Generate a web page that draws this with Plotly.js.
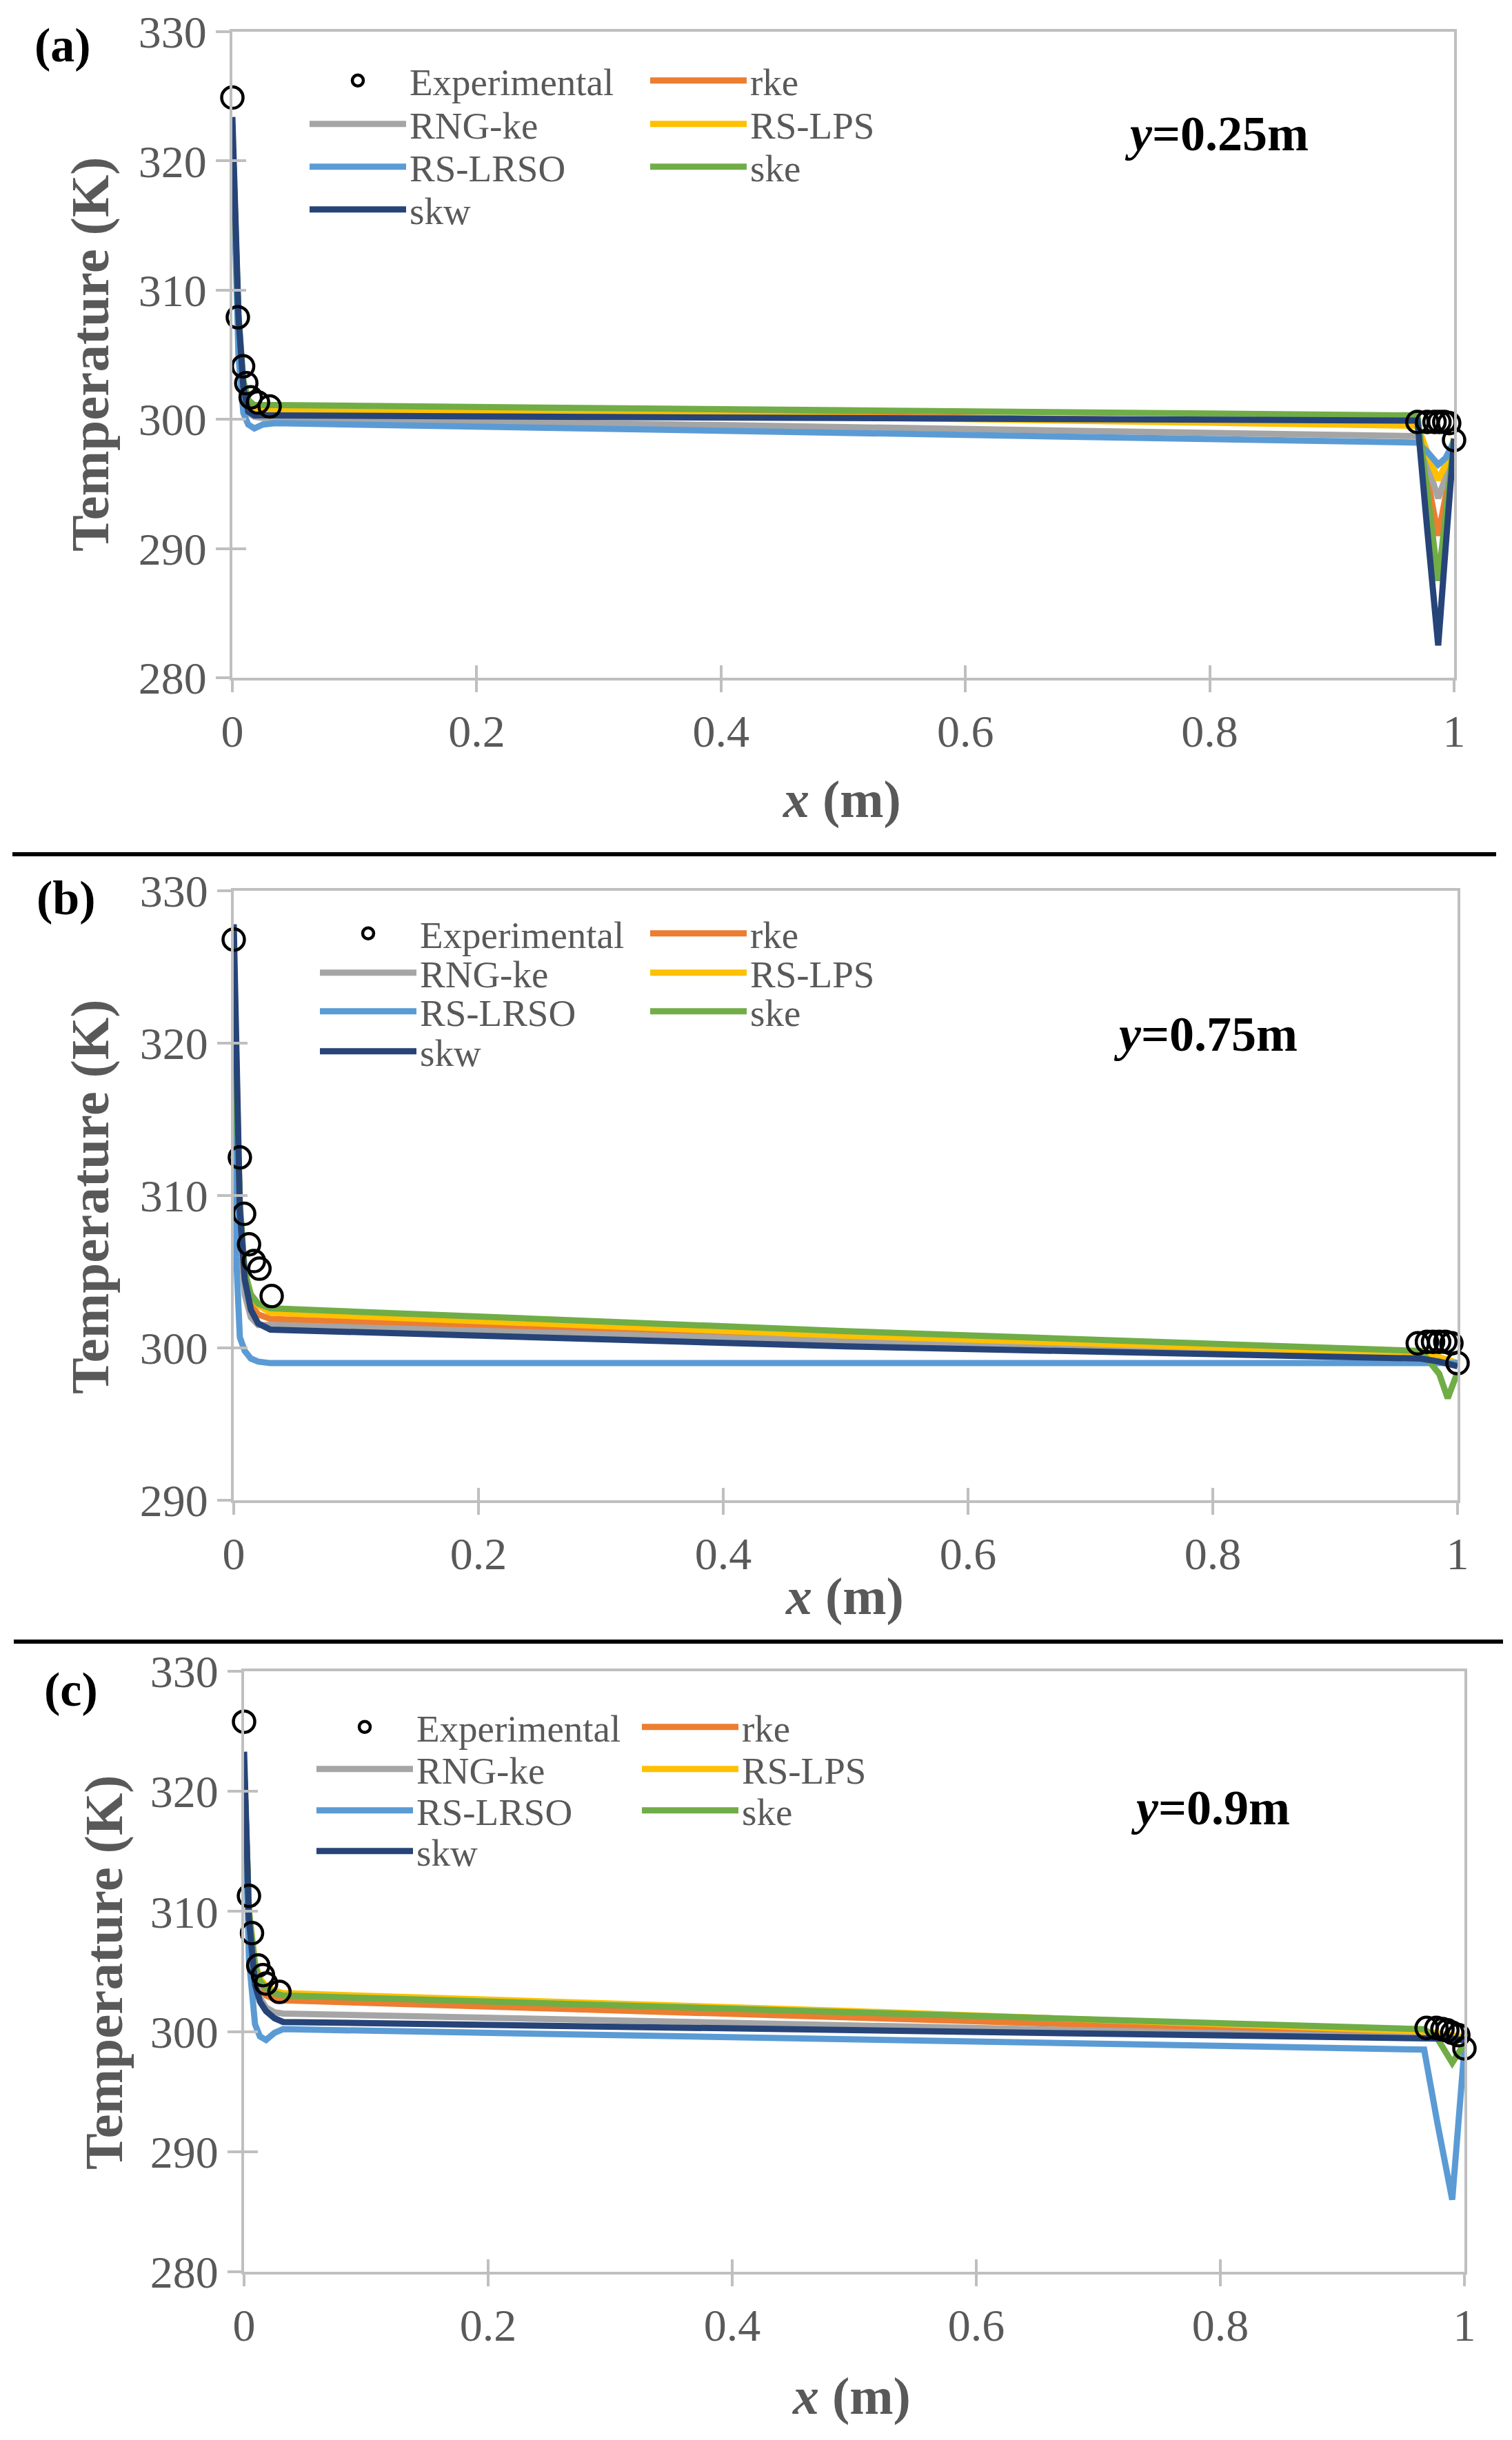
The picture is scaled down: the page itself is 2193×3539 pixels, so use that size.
<!DOCTYPE html>
<html>
<head>
<meta charset="utf-8">
<script src="https://cdn.plot.ly/plotly-3.0.1.min.js"></script>
<style>
  html, body { margin: 0; padding: 0; background: #fff; }
  #chart { width: 2193px; height: 3539px; }
</style>
</head>
<body>
<div id="chart"></div>
<script>
// series names and colours (Excel office palette)
const modelNames = ['rke', 'RNG-ke', 'RS-LPS', 'RS-LRSO', 'ske', 'skw'];
const modelColors = ['#ED7D31', '#A5A5A5', '#FFC000', '#5B9BD5', '#70AD47', '#264478'];
const xTickVals = [0, 0.2, 0.4, 0.6, 0.8, 1];
const xTickText = ['0', '0.2', '0.4', '0.6', '0.8', '1'];

// ---- panel (a), y = 0.25 m ----
const xLineA = [0, 0.002, 0.005, 0.009, 0.013, 0.018, 0.025, 0.035, 0.5, 0.97, 0.978, 0.987, 0.993, 1.0];
const rkeA   = [322, 315, 307.5, 302.5, 301.2, 300.9, 300.8, 300.8, 300.3, 299.7, 295.5, 291.0, 294.0, 298.5];
const rngA   = [322, 315, 307.0, 302.0, 300.5, 300.2, 300.1, 300.1, 299.4, 298.7, 296.5, 293.9, 295.5, 298.5];
const lpsA   = [322, 315, 307.5, 302.5, 301.2, 300.9, 300.8, 300.8, 300.1, 299.5, 297.5, 295.3, 296.5, 298.5];
const lrsoA  = [322, 314, 305.0, 300.5, 299.6, 299.3, 299.6, 299.7, 299.0, 298.2, 297.5, 296.5, 297.0, 298.3];
const skeA   = [322, 315, 308.0, 303.0, 301.5, 301.1, 301.1, 301.1, 300.7, 300.3, 294.5, 287.5, 292.5, 298.5];
const skwA   = [323.4, 316, 308.0, 302.5, 300.6, 300.3, 300.3, 300.3, 300.1, 299.9, 291.5, 282.5, 290.0, 298.5];
const xExpA  = [0, 0.0045, 0.0088, 0.0114, 0.015, 0.021, 0.0305, 0.970, 0.978, 0.984, 0.988, 0.992, 0.996, 1.0];
const tExpA  = [324.9, 307.9, 304.1, 302.8, 301.7, 301.3, 301.0, 299.8, 299.8, 299.8, 299.8, 299.8, 299.7, 298.4];

// ---- panel (b), y = 0.75 m ----
const xLineB = [0, 0.002, 0.005, 0.009, 0.014, 0.02, 0.03, 0.5, 0.97, 0.985, 0.992, 1.0];
const rkeB   = [326, 317, 308.5, 304.2, 302.8, 302.2, 301.9, 300.6, 299.5, 299.3, 299.1, 298.9];
const rngB   = [326, 316, 307.5, 303.5, 302.0, 301.5, 301.5, 300.4, 299.4, 299.2, 299.1, 298.9];
const lpsB   = [326, 317, 309.0, 305.0, 303.5, 302.8, 302.3, 300.8, 299.6, 299.4, 299.2, 299.0];
const lrsoB  = [320, 306, 300.7, 299.8, 299.3, 299.1, 299.0, 299.0, 299.1, 299.1, 299.1, 299.0];
const skeB   = [326, 317, 309.5, 305.0, 303.5, 302.9, 302.6, 301.1, 299.8, 298.3, 296.7, 298.4];
const skwB   = [327.8, 318, 309.0, 304.5, 302.5, 301.6, 301.2, 300.1, 299.3, 299.1, 299.0, 298.8];
const xExpB  = [0, 0.005, 0.0085, 0.0125, 0.0165, 0.021, 0.031, 0.9675, 0.975, 0.98, 0.985, 0.99, 0.995, 1.0];
const tExpB  = [326.8, 312.5, 308.8, 306.8, 305.7, 305.2, 303.4, 300.3, 300.4, 300.4, 300.4, 300.4, 300.3, 299.0];

// ---- panel (c), y = 0.9 m ----
const xLineC = [0, 0.002, 0.004, 0.009, 0.013, 0.018, 0.025, 0.032, 0.5, 0.967, 0.978, 0.99, 1.0];
const rkeC   = [322, 315, 309.5, 305.0, 303.6, 303.0, 302.7, 302.6, 301.2, 299.8, 299.7, 299.5, 299.4];
const rngC   = [322, 315, 309.0, 304.5, 302.8, 302.0, 301.6, 301.5, 300.55, 299.6, 299.5, 299.4, 299.3];
const lpsC   = [322, 315, 310.0, 305.7, 304.4, 303.8, 303.4, 303.2, 301.7, 300.0, 299.9, 299.7, 299.5];
const lrsoC  = [322, 313, 306.0, 300.6, 299.6, 299.3, 299.9, 300.2, 299.35, 298.5, 292.3, 286.0, 298.6];
const skeC   = [322, 315, 310.0, 305.5, 304.2, 303.6, 303.2, 303.0, 301.6, 300.2, 299.4, 297.4, 299.0];
const skwC   = [323.3, 316, 309.4, 303.9, 302.5, 301.7, 301.1, 300.8, 300.15, 299.5, 299.5, 299.4, 299.3];
const xExpC  = [0, 0.004, 0.0065, 0.0116, 0.0155, 0.018, 0.029, 0.969, 0.977, 0.982, 0.986, 0.99, 0.995, 1.0];
const tExpC  = [325.8, 311.3, 308.2, 305.5, 304.7, 304.0, 303.3, 300.3, 300.3, 300.2, 300.1, 299.9, 299.7, 298.6];

const FONT = 'Liberation Serif, Times New Roman, serif';
const GREY_TEXT = '#595959';
const AXIS_GREY = '#BFBFBF';
const W = 2193, H = 3539;

// legend grid (Excel style, 2 columns): [column, row] of each entry
const legendSlot = {
    'Experimental': [0, 0], 'rke': [1, 0],
    'RNG-ke': [0, 1], 'RS-LPS': [1, 1],
    'RS-LRSO': [0, 2], 'ske': [1, 2],
    'skw': [0, 3]
};
// per panel: left edge of left / right legend column, and row centres (px)
const legendCols = [[444, 938], [459, 938], [454, 926]];
const legendRows = [[117, 180, 242, 304], [1354, 1411, 1467, 1525], [2505, 2566, 2626, 2685]];

// pixel helpers
const px = v => v / W;
const py = v => 1 - v / H;

const traces = [];
const legends = {};
let legendCount = 0;
function legendFor(p, name) {
    legendCount += 1;
    const key = legendCount === 1 ? 'legend' : 'legend' + legendCount;
    const slot = legendSlot[name];
    legends[key] = {
        x: px(legendCols[p][slot[0]]), y: py(legendRows[p][slot[1]]),
        xanchor: 'left', yanchor: 'middle',
        bgcolor: 'rgba(0,0,0,0)', borderwidth: 0,
        font: { family: FONT, size: 55, color: GREY_TEXT },
        itemwidth: 140, tracegroupgap: 0
    };
    return key;
}

function addPanel(p, xLine, series, xExp, tExp) {
    const sfx = p === 0 ? '' : String(p + 1);
    const overX = 'x' + (p + 4), overY = 'y' + (p + 4);
    series.forEach(function(ys, i) {
        traces.push({
            x: xLine, y: ys, name: modelNames[i], type: 'scatter', mode: 'lines',
            xaxis: 'x' + sfx, yaxis: 'y' + sfx,
            line: { color: modelColors[i], width: 9 },
            cliponaxis: false,
            legend: legendFor(p, modelNames[i])
        });
    });
    // experimental points sit on the overlay axes (same ranges), so they are drawn on top
    traces.push({
        x: xExp, y: tExp, name: 'Experimental', type: 'scatter', mode: 'markers',
        xaxis: overX, yaxis: overY,
        marker: { symbol: 'circle-open', size: 31, color: '#000', line: { width: 4.5, color: '#000' } },
        cliponaxis: false,
        legend: legendFor(p, 'Experimental')
    });
}
addPanel(0, xLineA, [rkeA, rngA, lpsA, lrsoA, skeA, skwA], xExpA, tExpA);
addPanel(1, xLineB, [rkeB, rngB, lpsB, lrsoB, skeB, skwB], xExpB, tExpB);
addPanel(2, xLineC, [rkeC, rngC, lpsC, lrsoC, skeC, skwC], xExpC, tExpC);

function xAxis(l, r, anchor) {
    return {
        domain: [px(l), px(r)], anchor: anchor, range: [0, 1],
        tickvals: xTickVals, ticktext: xTickText,
        showgrid: false, zeroline: false,
        showline: true, linecolor: AXIS_GREY, linewidth: 4, mirror: true,
        ticks: 'outside', ticklen: 17, tickwidth: 4, tickcolor: AXIS_GREY,
        ticklabelstandoff: 0,
        tickfont: { family: FONT, size: 66, color: GREY_TEXT },
        fixedrange: true
    };
}
function yAxis(top, bot, anchor, lo) {
    const vals = [];
    for (let v = lo; v <= 330; v += 10) vals.push(v);
    return {
        domain: [py(bot), py(top)], anchor: anchor, range: [lo, 330],
        tickvals: vals,
        showgrid: false, zeroline: false,
        showline: true, linecolor: AXIS_GREY, linewidth: 4, mirror: true,
        ticks: 'outside', ticklen: 20, tickwidth: 4, tickcolor: AXIS_GREY,
        ticklabelstandoff: 0,
        tickfont: { family: FONT, size: 66, color: GREY_TEXT },
        fixedrange: true
    };
}
// overlay axes that add the inner half of Excel's cross tick marks
function xInner(over, anchor) {
    return { overlaying: over, anchor: anchor, range: [0, 1], tickvals: xTickVals,
        showticklabels: false, showgrid: false, zeroline: false, showline: false,
        ticks: 'inside', ticklen: 18, tickwidth: 4, tickcolor: AXIS_GREY, fixedrange: true };
}
function yInner(over, anchor, lo) {
    const vals = [];
    for (let v = lo; v <= 330; v += 10) vals.push(v);
    return { overlaying: over, anchor: anchor, range: [lo, 330], tickvals: vals,
        showticklabels: false, showgrid: false, zeroline: false, showline: false,
        ticks: 'inside', ticklen: 20, tickwidth: 4, tickcolor: AXIS_GREY, fixedrange: true };
}

function ann(text, x, y, size, color, angle) {
    return {
        text: text, x: px(x), y: py(y), xref: 'paper', yref: 'paper',
        xanchor: 'center', yanchor: 'middle', showarrow: false,
        textangle: angle || 0,
        font: { family: FONT, size: size, color: color }
    };
}

const layout = Object.assign({
    width: W, height: H,
    margin: { l: 0, r: 0, t: 0, b: 0 },
    paper_bgcolor: '#fff', plot_bgcolor: 'rgba(0,0,0,0)',
    showlegend: true,
    xaxis:  xAxis(337, 2109, 'y'),
    yaxis:  yAxis(46, 983, 'x', 280),
    xaxis2: xAxis(339, 2114, 'y2'),
    yaxis2: yAxis(1292, 2176, 'x2', 290),
    xaxis3: xAxis(354, 2124, 'y3'),
    yaxis3: yAxis(2424, 3295, 'x3', 280),
    xaxis4: xInner('x', 'y'),
    yaxis4: yInner('y', 'x', 280),
    xaxis5: xInner('x2', 'y2'),
    yaxis5: yInner('y2', 'x2', 290),
    xaxis6: xInner('x3', 'y3'),
    yaxis6: yInner('y3', 'x3', 280),
    annotations: [
        ann('<b>(a)</b>', 91, 65, 70, '#000'),
        ann('<b>(b)</b>', 96, 1303, 70, '#000'),
        ann('<b>(c)</b>', 103, 2450, 70, '#000'),
        ann('<b>Temperature (K)</b>', 130, 514, 79, GREY_TEXT, -90),
        ann('<b>Temperature (K)</b>', 130, 1736, 79, GREY_TEXT, -90),
        ann('<b>Temperature (K)</b>', 150, 2861, 79, GREY_TEXT, -90),
        ann('<b><i>x</i> (m)</b>', 1221, 1160, 76, GREY_TEXT),
        ann('<b><i>x</i> (m)</b>', 1225, 2315, 76, GREY_TEXT),
        ann('<b><i>x</i> (m)</b>', 1235, 3475, 76, GREY_TEXT),
        ann('<b><i>y</i>=0.25m</b>', 1764, 194, 72, '#000'),
        ann('<b><i>y</i>=0.75m</b>', 1748, 1500, 72, '#000'),
        ann('<b><i>y</i>=0.9m</b>', 1755, 2622, 72, '#000')
    ],
    shapes: [
        { type: 'line', xref: 'paper', yref: 'paper', x0: px(18), x1: px(2170), y0: py(1239), y1: py(1239),
          line: { color: '#000', width: 6 } },
        { type: 'line', xref: 'paper', yref: 'paper', x0: px(20), x1: px(2180), y0: py(2381), y1: py(2381),
          line: { color: '#000', width: 6 } }
    ]
}, legends);

Plotly.newPlot('chart', traces, layout, { displayModeBar: false, staticPlot: true });
</script>
</body>
</html>
